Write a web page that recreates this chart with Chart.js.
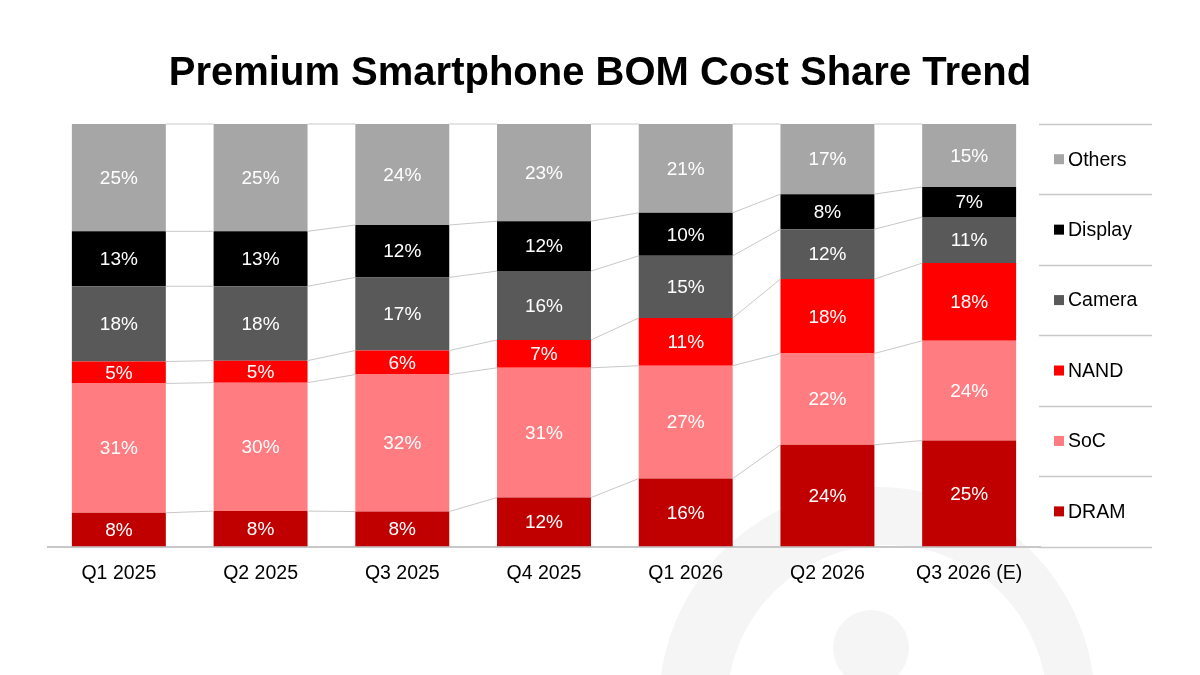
<!DOCTYPE html>
<html>
<head>
<meta charset="utf-8">
<title>Premium Smartphone BOM Cost Share Trend</title>
<script src="https://cdn.jsdelivr.net/npm/chart.js@4/dist/chart.umd.min.js"></script>
<style>
  html, body { margin: 0; padding: 0; background: #fff; }
  #wrap { width: 1200px; height: 675px; position: relative; }
</style>
</head>
<body>
<div id="wrap"><canvas id="chart" width="1200" height="675"></canvas></div>
<script>
/* global Chart */

// quarters on the x axis
const quarters = ['Q1 2025', 'Q2 2025', 'Q3 2025', 'Q4 2025', 'Q1 2026', 'Q2 2026', 'Q3 2026 (E)']

// share of BOM cost, % (labels are the rounded values)
const dram = [8.0, 8.4, 8.3, 11.6, 16.1, 24.1, 25.1]
const soc = [30.6, 30.4, 32.4, 30.7, 26.7, 21.6, 23.6]
const nand = [5.2, 5.2, 5.7, 6.6, 11.3, 17.6, 18.4]
const camera = [17.8, 17.6, 17.3, 16.3, 14.7, 11.8, 10.9]
const display = [13.0, 13.0, 12.4, 11.8, 10.2, 8.3, 7.1]
const others = [25.4, 25.4, 23.9, 23.0, 21.0, 16.6, 14.9]

const chartTitle = 'Premium Smartphone BOM Cost Share Trend'

const FONT = '"Liberation Sans", Arial, Helvetica, sans-serif'
const lineGrey = '#c8c8c8'

// faint logo in the lower right, behind everything
const watermark = {
  id: 'watermark',
  beforeDraw (chart) {
    const ctx = chart.ctx
    ctx.save()
    ctx.fillStyle = '#f5f5f5'
    ctx.beginPath()
    ctx.arc(877, 705, 218, 0, Math.PI * 2)
    ctx.arc(887, 705, 160, 0, Math.PI * 2, true)
    ctx.fill()
    ctx.beginPath()
    ctx.arc(871, 648, 38, 0, Math.PI * 2)
    ctx.fill()
    ctx.restore()
  }
}

// title centred on the whole page, not on the plot
const pageTitle = {
  id: 'pageTitle',
  afterDraw (chart) {
    const ctx = chart.ctx
    ctx.save()
    ctx.fillStyle = '#000'
    ctx.font = 'bold 40px ' + FONT
    ctx.textAlign = 'center'
    ctx.textBaseline = 'middle'
    ctx.fillText(chartTitle, 600, 74)
    ctx.restore()
  }
}

// thin grey lines joining each band boundary from bar to bar
const connectors = {
  id: 'connectors',
  afterDatasetsDraw (chart) {
    const ctx = chart.ctx
    ctx.save()
    ctx.strokeStyle = lineGrey
    ctx.lineWidth = 1
    chart.data.datasets.forEach((ds, k) => {
      const bars = chart.getDatasetMeta(k).data
      for (let i = 0; i < bars.length - 1; i++) {
        const a = bars[i]
        const b = bars[i + 1]
        ctx.beginPath()
        ctx.moveTo(a.x + a.width / 2, a.y)
        ctx.lineTo(b.x - b.width / 2, b.y)
        ctx.stroke()
      }
    })
    ctx.restore()
  }
}

// white percentage in the middle of every segment
const segLabels = {
  id: 'segLabels',
  afterDatasetsDraw (chart) {
    const ctx = chart.ctx
    ctx.save()
    ctx.fillStyle = '#fff'
    ctx.font = '19px ' + FONT
    ctx.textAlign = 'center'
    ctx.textBaseline = 'middle'
    chart.data.datasets.forEach((ds, k) => {
      chart.getDatasetMeta(k).data.forEach((bar, i) => {
        ctx.fillText(Math.round(ds.data[i]) + '%', bar.x, (bar.y + bar.base) / 2 + 1)
      })
    })
    ctx.restore()
  }
}

// legend as a ruled table to the right of the plot
const legendTable = {
  id: 'legendTable',
  afterDraw (chart) {
    const ctx = chart.ctx
    const area = chart.chartArea
    const sets = chart.data.datasets.slice().reverse()
    const rowH = (area.bottom - area.top) / sets.length
    const x0 = area.right - 1
    const x1 = 1152
    ctx.save()
    ctx.strokeStyle = lineGrey
    ctx.lineWidth = 1.5
    for (let r = 0; r <= sets.length; r++) {
      const y = Math.round(area.top + r * rowH) + 0.5
      ctx.beginPath()
      ctx.moveTo(x0, y)
      ctx.lineTo(x1, y)
      ctx.stroke()
    }
    ctx.font = '19.5px ' + FONT
    ctx.textBaseline = 'middle'
    sets.forEach((ds, r) => {
      const cy = area.top + r * rowH + rowH / 2
      ctx.fillStyle = ds.backgroundColor
      ctx.fillRect(1054, cy - 5, 10, 10)
      ctx.fillStyle = '#000'
      ctx.fillText(ds.label, 1068, cy + 1)
    })
    ctx.restore()
  }
}

const series = [
  { label: 'DRAM', data: dram, backgroundColor: '#c00000' },
  { label: 'SoC', data: soc, backgroundColor: '#ff7c80' },
  { label: 'NAND', data: nand, backgroundColor: '#ff0000' },
  { label: 'Camera', data: camera, backgroundColor: '#595959' },
  { label: 'Display', data: display, backgroundColor: '#000000' },
  { label: 'Others', data: others, backgroundColor: '#a6a6a6' }
]

new Chart(document.getElementById('chart').getContext('2d'), {
  type: 'bar',
  data: {
    labels: quarters,
    datasets: series.map(s => Object.assign({
      borderWidth: 0,
      categoryPercentage: 1,
      barPercentage: 0.663
    }, s))
  },
  options: {
    responsive: false,
    animation: false,
    layout: { padding: { left: 48, right: 160, top: 124, bottom: 83 } },
    plugins: {
      legend: { display: false },
      tooltip: { enabled: false },
      title: { display: false }
    },
    scales: {
      x: {
        stacked: true,
        grid: { display: false },
        border: { display: true, color: lineGrey, width: 2 },
        ticks: { color: '#000', font: { family: FONT, size: 19.5 }, padding: 7, maxRotation: 0 }
      },
      y: {
        stacked: true,
        display: false,
        min: 0,
        max: 100
      }
    }
  },
  plugins: [watermark, pageTitle, connectors, segLabels, legendTable]
})
</script>
</body>
</html>
